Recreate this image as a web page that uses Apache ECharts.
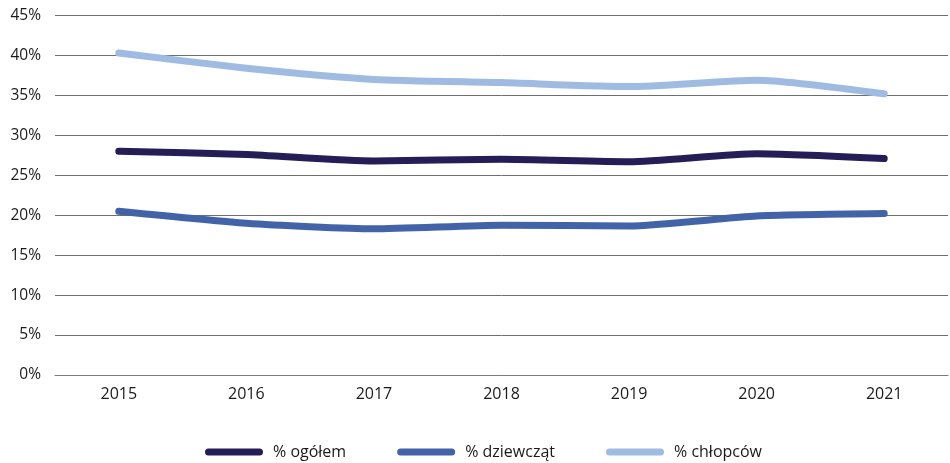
<!DOCTYPE html>
<html>
<head>
<meta charset="utf-8">
<script src="https://cdn.jsdelivr.net/npm/echarts@6/dist/echarts.min.js"></script>
<style>
  html, body { margin: 0; padding: 0; background: #ffffff; }
  #chart { width: 950px; height: 463px; }
</style>
</head>
<body>
<div id="chart"></div>
<script>
// Years on the category axis
const years = ['2015', '2016', '2017', '2018', '2019', '2020', '2021'];

// Shares in percent
const ogolem = [28.0, 27.6, 26.8, 27.0, 26.7, 27.7, 27.1];
const dziewczat = [20.5, 19.0, 18.3, 18.75, 18.65, 19.9, 20.2];
const chlopcow = [40.3, 38.4, 37.0, 36.6, 36.1, 36.9, 35.2];

// Value axis ticks
const yTicks = [0, 5, 10, 15, 20, 25, 30, 35, 40, 45];

const seriesNames = ['% ogółem', '% dziewcząt', '% chłopców'];
const seriesColors = ['#251d56', '#4363a9', '#9fbbe2'];
const seriesData = [ogolem, dziewczat, chlopcow];

const capsule = 'path://M3.5,0 H54.5 A3.5,3.5 0 0 1 54.5,7 H3.5 A3.5,3.5 0 0 1 3.5,0 Z';

const chart = echarts.init(document.getElementById('chart'), null, { renderer: 'canvas' });

chart.setOption({
  animation: false,
  backgroundColor: '#ffffff',
  textStyle: { fontFamily: 'Open Sans' },
  grid: { left: 55, right: 2, top: 15.5, bottom: 88, containLabel: false },
  legend: {
    data: seriesNames.map((n, i) => ({ name: n, icon: capsule, itemStyle: { color: seriesColors[i] } })),
    left: 205,
    top: 444,
    padding: 0,
    itemWidth: 58,
    itemHeight: 7,
    itemGap: 51,
    textStyle: { fontSize: 16, color: '#1a1a1a', fontFamily: 'Open Sans', padding: [0, 0, 0, 5] }
  },
  xAxis: {
    type: 'category',
    data: years,
    boundaryGap: true,
    axisLine: { show: true, lineStyle: { color: '#7a7a7a', width: 1 } },
    axisTick: { show: false },
    axisLabel: { fontSize: 16, color: '#1a1a1a', margin: 11 }
  },
  yAxis: {
    type: 'value',
    min: yTicks[0],
    max: yTicks[yTicks.length - 1],
    interval: 5,
    axisLine: { show: false },
    axisTick: { show: false },
    axisLabel: { fontSize: 15.5, color: '#1a1a1a', margin: 14, formatter: v => v + '%' },
    splitLine: { lineStyle: { color: '#6e6e6e', width: 1 } }
  },
  series: seriesData.map((d, i) => ({
    name: seriesNames[i],
    type: 'line',
    data: d,
    smooth: 0.2,
    symbol: 'none',
    lineStyle: { color: seriesColors[i], width: 7, cap: 'round', join: 'round' },
    itemStyle: { color: seriesColors[i] }
  }))
});
</script>
</body>
</html>
